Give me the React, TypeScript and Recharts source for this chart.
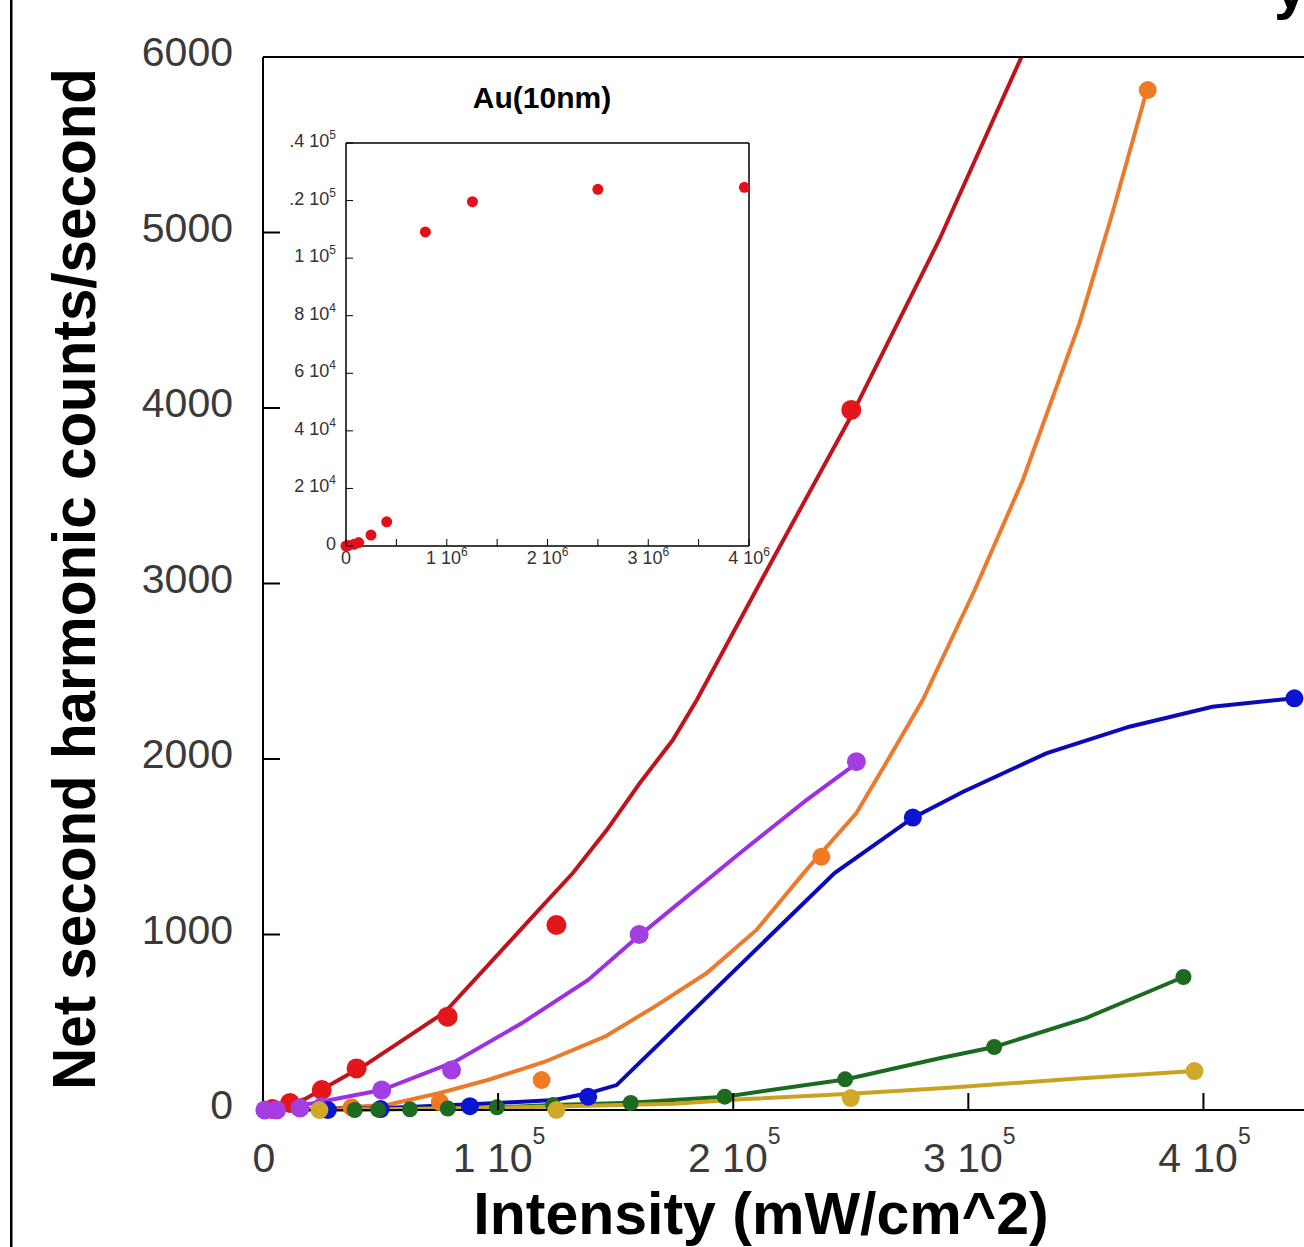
import React from 'react';
import { ComposedChart, ScatterChart, Line, Scatter, XAxis, YAxis } from 'recharts';

// ---------- main chart: ticks ----------
const mainXTicks = [0, 100000, 200000, 300000, 400000];
const mainXTickMant = ['0', '1 10', '2 10', '3 10', '4 10'];
const mainXTickExp = ['', '5', '5', '5', '5'];
const mainTopTicks = [100000, 200000, 300000, 400000];
const mainYTicks = [0, 1000, 2000, 3000, 4000, 5000, 6000];
const mainYTickLabels = ['0', '1000', '2000', '3000', '4000', '5000', '6000'];
const rightTicks = [1000, 2000, 3000, 4000, 5000];

// ---------- main chart: series (measured dots + fitted curves) ----------
const redDotX = [4000, 11500, 25000, 39800, 78500, 124800, 250200];
const redDotY = [5, 40, 114, 237, 532, 1054, 3989];
const redFitX = [0, 11500, 17900, 43400, 77400, 117300, 131800, 146200, 160300, 174300, 184500, 217600, 250400, 287800, 322600];
const redFitY = [0, 34, 63, 256, 558, 1140, 1350, 1595, 1863, 2108, 2336, 3157, 3960, 4963, 6000];

const orangeDotX = [25000, 37700, 75200, 118500, 237500, 376300];
const orangeDotY = [3, 15, 45, 171, 1443, 5812];
const orangeFitX = [0, 25100, 53100, 75200, 95600, 119900, 145400, 166600, 188600, 209900, 231100, 252400, 266500, 280600, 302700, 323200, 347300, 361300, 376200];
const orangeFitY = [0, 6, 30, 97, 171, 275, 418, 589, 779, 1026, 1368, 1692, 2011, 2336, 2963, 3590, 4484, 5111, 5823];

const purpleDotX = [800, 5800, 15700, 25000, 50500, 80200, 160000, 252400];
const purpleDotY = [0, 0, 11, 19, 114, 228, 1000, 1985];
const purpleFitX = [0, 10600, 28500, 50500, 81600, 110000, 138300, 159500, 202800, 231100, 252400];
const purpleFitY = [0, 11, 57, 114, 275, 494, 741, 988, 1463, 1766, 1975];

const blueDotX = [27600, 50000, 88000, 138300, 276400, 438700];
const blueDotY = [0, 5, 22, 76, 1666, 2346];
const blueFitX = [0, 50000, 100000, 124000, 138300, 150400, 243100, 276300, 297600, 333100, 368500, 403800, 438700];
const blueFitY = [0, 10, 40, 57, 95, 142, 1350, 1664, 1812, 2032, 2184, 2298, 2346];

const greenDotX = [39000, 49000, 62500, 78600, 99500, 123400, 156400, 196400, 247600, 311000, 391500];
const greenDotY = [0, 2, 4, 8, 15, 28, 40, 76, 175, 359, 758];
const greenFitX = [0, 39000, 62500, 99500, 123400, 156400, 196400, 247600, 287800, 311000, 350000, 391500];
const greenFitY = [0, 2, 5, 14, 28, 42, 76, 174, 295, 359, 524, 758];

const yellowDotX = [24000, 124800, 250000, 396200];
const yellowDotY = [0, 0, 68, 222];
const yellowFitX = [0, 60000, 120000, 175000, 205000, 250000, 290000, 345000, 396200];
const yellowFitY = [0, 5, 18, 35, 62, 92, 125, 178, 222];

// ---------- inset: Au(10nm) ----------
const insetX = [0, 23000, 79000, 126000, 248000, 404000, 788000, 1255000, 2500000, 3954000];
const insetY = [0, 200, 600, 1200, 3800, 8400, 109100, 119600, 123900, 124600];
const insetXTicks = [0, 500000, 1000000, 1500000, 2000000, 2500000, 3000000, 3500000, 4000000];
const insetXTickMant = ['0', '', '1 10', '', '2 10', '', '3 10', '', '4 10'];
const insetXTickExp = ['', '', '6', '', '6', '', '6', '', '6'];
const insetYTicks = [0, 20000, 40000, 60000, 80000, 100000, 120000, 140000];
const insetYTickMant = ['0', '2 10', '4 10', '6 10', '8 10', '1 10', '.2 10', '.4 10'];
const insetYTickExp = ['', '4', '4', '4', '4', '5', '5', '5'];

const pts = (xs: number[], ys: number[]) => xs.map((x, i) => ({ x, y: ys[i] }));

const FONT = '"Liberation Sans", Arial, Helvetica, sans-serif';

const dotShape = (r: number, fill: string) => (props: any) =>
  <circle cx={props.cx} cy={props.cy} r={r} fill={fill} />;

// ---------- main ticks ----------
const MainXTick = (props: any) => {
  const { x, y, payload } = props;
  const i = mainXTicks.indexOf(payload.value);
  return (
    <g>
      {payload.value > 0 && <line x1={x} x2={x} y1={y} y2={y - 17} stroke="#000" strokeWidth={2} />}
      <text x={x + 1} y={y + 62} textAnchor="middle" fontSize={41} fill="#3a3a3a" fontFamily={FONT}>
        <tspan>{mainXTickMant[i]}</tspan>
        {mainXTickExp[i] ? <tspan dy={-28} fontSize={23}>{mainXTickExp[i]}</tspan> : null}
      </text>
    </g>
  );
};
const MainTopTick = (props: any) => {
  const { x, y } = props;
  return <line x1={x} x2={x} y1={y} y2={y + 17} stroke="#000" strokeWidth={2} />;
};
const MainYTick = (props: any) => {
  const { x, y, payload } = props;
  const i = mainYTicks.indexOf(payload.value);
  return (
    <g>
      {payload.value > 0 && payload.value < 6000 && <line x1={x} x2={x + 17} y1={y} y2={y} stroke="#000" strokeWidth={2} />}
      <text x={x - 30} y={y + 9} textAnchor="end" fontSize={41} fill="#3a3a3a" fontFamily={FONT}>
        {mainYTickLabels[i]}
      </text>
    </g>
  );
};
const RightTick = (props: any) => {
  const { x, y } = props;
  return <line x1={x - 30} x2={x} y1={y} y2={y} stroke="#bdbdbd" strokeWidth={1.5} strokeDasharray="5 3" />;
};

// ---------- inset ticks ----------
const InsetXTick = (props: any) => {
  const { x, y, payload } = props;
  const i = insetXTicks.indexOf(payload.value);
  return (
    <g>
      <line x1={x} x2={x} y1={y} y2={y - 7} stroke="#000" strokeWidth={1} />
      {insetXTickMant[i] ? (
        <text x={x} y={y + 18} textAnchor="middle" fontSize={18} fill="#333" fontFamily={FONT}>
          <tspan>{insetXTickMant[i]}</tspan>
          {insetXTickExp[i] ? <tspan dy={-8} fontSize={12}>{insetXTickExp[i]}</tspan> : null}
        </text>
      ) : null}
    </g>
  );
};
const InsetTopTick = (props: any) => {
  const { x, y } = props;
  return <line x1={x} x2={x} y1={y} y2={y + 7} stroke="#000" strokeWidth={1} />;
};
const InsetYTick = (props: any) => {
  const { x, y, payload } = props;
  const i = insetYTicks.indexOf(payload.value);
  return (
    <g>
      <line x1={x} x2={x + 7} y1={y} y2={y} stroke="#000" strokeWidth={1} />
      <text x={x - 10} y={y + 4} textAnchor="end" fontSize={18} fill="#333" fontFamily={FONT}>
        <tspan>{insetYTickMant[i]}</tspan>
        {insetYTickExp[i] ? <tspan dy={-8} fontSize={12}>{insetYTickExp[i]}</tspan> : null}
      </text>
    </g>
  );
};
const InsetRightTick = (props: any) => {
  const { x, y } = props;
  return <line x1={x - 7} x2={x} y1={y} y2={y} stroke="#000" strokeWidth={1} />;
};

// ---------- titles ----------
const XTitle = () => (
  <text x={761} y={1234} textAnchor="middle" fontSize={59} fontWeight="bold" fill="#000" fontFamily={FONT}>
    Intensity (mW/cm^2)
  </text>
);
const YTitle = () => (
  <text x={95} y={579} transform="rotate(-90, 95, 579)" textAnchor="middle" fontSize={61} fontWeight="bold"
    fill="#000" fontFamily={FONT} textLength={1022} lengthAdjust="spacingAndGlyphs">
    Net second harmonic counts/second
  </text>
);
const InsetTitle = () => (
  <text x={260} y={38} textAnchor="middle" fontSize={30} fontWeight="bold" fill="#000" fontFamily={FONT}>
    Au(10nm)
  </text>
);

const series = [
  { fx: redFitX, fy: redFitY, dx: redDotX, dy: redDotY, line: '#c0141c', dot: '#e3161b', r: 10 },
  { fx: orangeFitX, fy: orangeFitY, dx: orangeDotX, dy: orangeDotY, line: '#ec7a2c', dot: '#f07a24', r: 9 },
  { fx: purpleFitX, fy: purpleFitY, dx: purpleDotX, dy: purpleDotY, line: '#9d30e2', dot: '#a43ee2', r: 9.5 },
  { fx: blueFitX, fy: blueFitY, dx: blueDotX, dy: blueDotY, line: '#0a0ab8', dot: '#0b14d0', r: 9 },
  { fx: greenFitX, fy: greenFitY, dx: greenDotX, dy: greenDotY, line: '#1a6b1f', dot: '#1d6b20', r: 8 },
  { fx: yellowFitX, fy: yellowFitY, dx: yellowDotX, dy: yellowDotY, line: '#c9a320', dot: '#d0a82a', r: 9 },
];

export default function App() {
  return (
    <div style={{ position: 'absolute', left: 0, top: 0, width: 1304, height: 1247, overflow: 'hidden', background: '#fff' }}>
      <ComposedChart width={1400} height={1247} margin={{ top: 56, right: 78, bottom: 0, left: 0 }}>
        <XAxis xAxisId="b" type="number" dataKey="x" domain={[0, 450000]} ticks={mainXTicks} interval={0}
          orientation="bottom" height={137} axisLine={{ stroke: '#000', strokeWidth: 2 }} tickLine={false}
          tickSize={0} tickMargin={0} tick={(p: any) => <MainXTick {...p} />} label={<XTitle />} />
        <XAxis xAxisId="t" type="number" dataKey="x" domain={[0, 450000]} ticks={mainTopTicks} interval={0}
          orientation="top" height={1} axisLine={{ stroke: '#000', strokeWidth: 2 }} tickLine={false}
          tickSize={0} tickMargin={0} tick={(p: any) => <MainTopTick {...p} />} />
        <YAxis yAxisId="l" type="number" dataKey="y" domain={[0, 6000]} ticks={mainYTicks} interval={0}
          width={263} axisLine={{ stroke: '#000', strokeWidth: 2 }} tickLine={false} tickSize={0} tickMargin={0}
          tick={(p: any) => <MainYTick {...p} />} label={<YTitle />} />
        <YAxis yAxisId="r" orientation="right" type="number" domain={[0, 6000]} ticks={rightTicks} interval={0}
          width={1} axisLine={{ stroke: '#000', strokeWidth: 2 }} tickLine={false} tickSize={0} tickMargin={0}
          tick={(p: any) => <RightTick {...p} />} />
        {series.map((s, i) => (
          <Line key={'l' + i} xAxisId="b" yAxisId="l" data={pts(s.fx, s.fy)} dataKey="y" type="linear"
            stroke={s.line} strokeWidth={4} dot={false} activeDot={false} isAnimationActive={false} />
        ))}
        {series.map((s, i) => (
          <Scatter key={'s' + i} xAxisId="b" yAxisId="l" data={pts(s.dx, s.dy)} dataKey="y"
            shape={dotShape(s.r, s.dot)} isAnimationActive={false} />
        ))}
      </ComposedChart>

      <div style={{ position: 'absolute', left: 282, top: 70 }}>
        <ScatterChart width={500} height={520} margin={{ top: 72, right: 32, bottom: 0, left: 0 }}>
          <XAxis xAxisId="b" type="number" dataKey="x" domain={[0, 4000000]} ticks={insetXTicks} interval={0}
            orientation="bottom" height={44} axisLine={{ stroke: '#000', strokeWidth: 1.5 }} tickLine={false}
            tickSize={0} tickMargin={0} tick={(p: any) => <InsetXTick {...p} />} />
          <XAxis xAxisId="t" type="number" dataKey="x" domain={[0, 4000000]} ticks={insetXTicks} interval={0}
            orientation="top" height={1} axisLine={{ stroke: '#000', strokeWidth: 1.5 }} tickLine={false}
            tickSize={0} tickMargin={0} tick={(p: any) => <InsetTopTick {...p} />} label={<InsetTitle />} />
          <YAxis yAxisId="l" type="number" dataKey="y" domain={[0, 140000]} ticks={insetYTicks} interval={0}
            width={64} axisLine={{ stroke: '#000', strokeWidth: 1.5 }} tickLine={false} tickSize={0} tickMargin={0}
            tick={(p: any) => <InsetYTick {...p} />} />
          <YAxis yAxisId="r" orientation="right" type="number" domain={[0, 140000]} ticks={insetYTicks} interval={0}
            width={1} axisLine={{ stroke: '#000', strokeWidth: 1.5 }} tickLine={false} tickSize={0} tickMargin={0}
            tick={(p: any) => <InsetRightTick {...p} />} />
          <Scatter xAxisId="b" yAxisId="l" data={pts(insetX, insetY)} dataKey="y"
            shape={dotShape(5.5, '#e3101a')} isAnimationActive={false} />
        </ScatterChart>
      </div>

      <svg width={1304} height={1247} style={{ position: 'absolute', left: 0, top: 0, pointerEvents: 'none' }}>
        <rect x={10} y={0} width={2.5} height={1247} fill="#000" />
        <text x={1274} y={8} fontSize={60} fontWeight="bold" fill="#000" fontFamily={FONT}>y</text>
      </svg>
    </div>
  );
}
